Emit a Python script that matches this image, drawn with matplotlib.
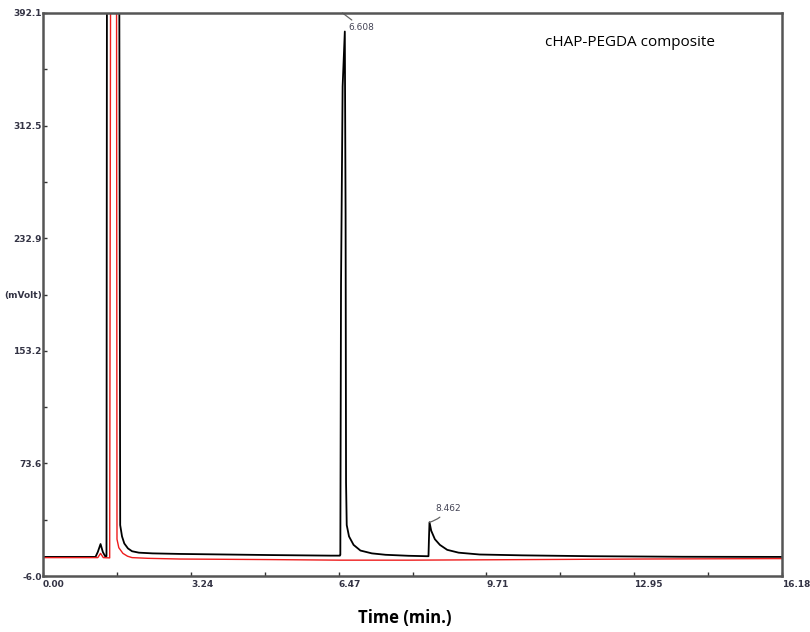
import matplotlib
matplotlib.use("Agg")
import matplotlib.pyplot as plt

# Black trace (sample)
black_t = [0.0, 1.15, 1.20, 1.26, 1.31, 1.36, 1.39, 1.40, 1.67, 1.69, 1.73, 1.78, 1.86, 1.95,
           2.10, 2.40, 3.00, 4.00, 5.00, 6.30, 6.50, 6.51, 6.525, 6.56, 6.608,
           6.625, 6.635, 6.65, 6.70, 6.80, 6.95, 7.20, 7.50, 8.00, 8.40, 8.44, 8.45, 8.462,
           8.50, 8.58, 8.69, 8.85, 9.10, 9.56, 10.50, 12.00, 14.00, 16.00, 16.18]
black_v = [7.5, 7.5, 11.0, 16.6, 11.0, 8.0, 8.0, 420.0, 420.0, 30.0, 22.0, 17.0, 13.5, 11.5,
           10.5, 10.0, 9.6, 9.2, 8.8, 8.4, 8.4, 9.0, 200.0, 340.0, 379.0,
           250.0, 60.0, 30.0, 22.0, 16.0, 12.0, 10.0, 9.0, 8.3, 8.0, 8.0, 20.0, 32.0,
           26.0, 20.0, 16.0, 12.5, 10.5, 9.2, 8.6, 8.0, 7.6, 7.5, 7.5]

# Red trace (blank)
red_t = [0.0, 1.20, 1.26, 1.32, 1.46, 1.48, 1.61, 1.62, 1.66, 1.75, 1.85, 1.95, 2.30, 3.00,
         5.00, 6.50, 8.00, 10.00, 13.00, 16.00, 16.18]
red_v = [7.0, 7.0, 10.0, 7.0, 6.8, 420.0, 420.0, 20.0, 14.0, 10.0, 8.0, 7.0, 6.5, 6.0,
         5.6, 5.2, 5.2, 5.5, 6.0, 6.3, 6.3]

x_major = [0.00, 3.24, 6.47, 9.71, 12.95, 16.18]
x_minor = [1.62, 4.85, 8.09, 11.33, 14.56]
y_labels = ["-6.0", "73.6", "153.2", "(mVolt)", "232.9", "312.5", "392.1"]
y_label_vals = [-6.0, 73.6, 153.2, 193.05, 232.9, 312.5, 392.1]
y_minor = [33.8, 113.4, 272.7, 352.3]

peak_labels = ["6.608", "8.462"]
peak_times = [6.608, 8.462]

fig = plt.figure(figsize=(8.10, 6.32), dpi=100)
ax = fig.add_axes([43/810, 1-576/632, (782-43)/810, (576-13)/632])

ax.plot(black_t, black_v, color="black", lw=1.3, zorder=3)
ax.plot(red_t, red_v, color="#ee1c1c", lw=1.0, zorder=4)

ax.set_xlim(0, 16.18)
ax.set_ylim(-6.0, 392.1)

for s in ax.spines.values():
    s.set_color("#555555")
    s.set_linewidth(1.8)
    s.set_zorder(5)

ax.set_xticks(x_major)
ax.set_xticks(x_minor, minor=True)
ax.set_xticklabels([f"{v:.2f}" for v in x_major])
ax.set_yticks(y_label_vals)
ax.set_yticklabels(y_labels)
ax.set_yticks(y_minor, minor=True)
ax.tick_params(axis="both", which="both", direction="in", length=3, width=1, color="#333333",
               labelsize=6.5, labelcolor="#333344")
ax.tick_params(axis="y", pad=1)
ax.tick_params(axis="x", pad=3)
for lbl in ax.get_xticklabels() + ax.get_yticklabels():
    lbl.set_fontweight("bold")
for lbl in ax.get_xticklabels():
    lbl.set_horizontalalignment("left")

# peak annotations
ax.annotate(peak_labels[0], xy=(peak_times[0] - 0.05, 392.1), xytext=(peak_times[0] + 0.08, 382),
            fontsize=6.5, color="#444455", ha="left", va="center",
            arrowprops=dict(arrowstyle="-", color="#666666", lw=0.9, shrinkA=0, shrinkB=0))
ax.annotate(peak_labels[1], xy=(peak_times[1], 32.0), xytext=(peak_times[1] + 0.12, 42),
            fontsize=6.5, color="#444455", ha="left", va="center",
            arrowprops=dict(arrowstyle="-", color="#666666", lw=0.9, shrinkA=2, shrinkB=0,
                            connectionstyle="arc3,rad=-0.2"))

fig.text(630/810, 1-42/632, "cHAP-PEGDA composite", fontsize=11, family="Open Sans",
         ha="center", va="center")
fig.text(405/810, 1-618/632, "Time (min.)", fontsize=12, family="Open Sans", weight="bold",
         ha="center", va="center")

fig.savefig("out.png", dpi=100)
